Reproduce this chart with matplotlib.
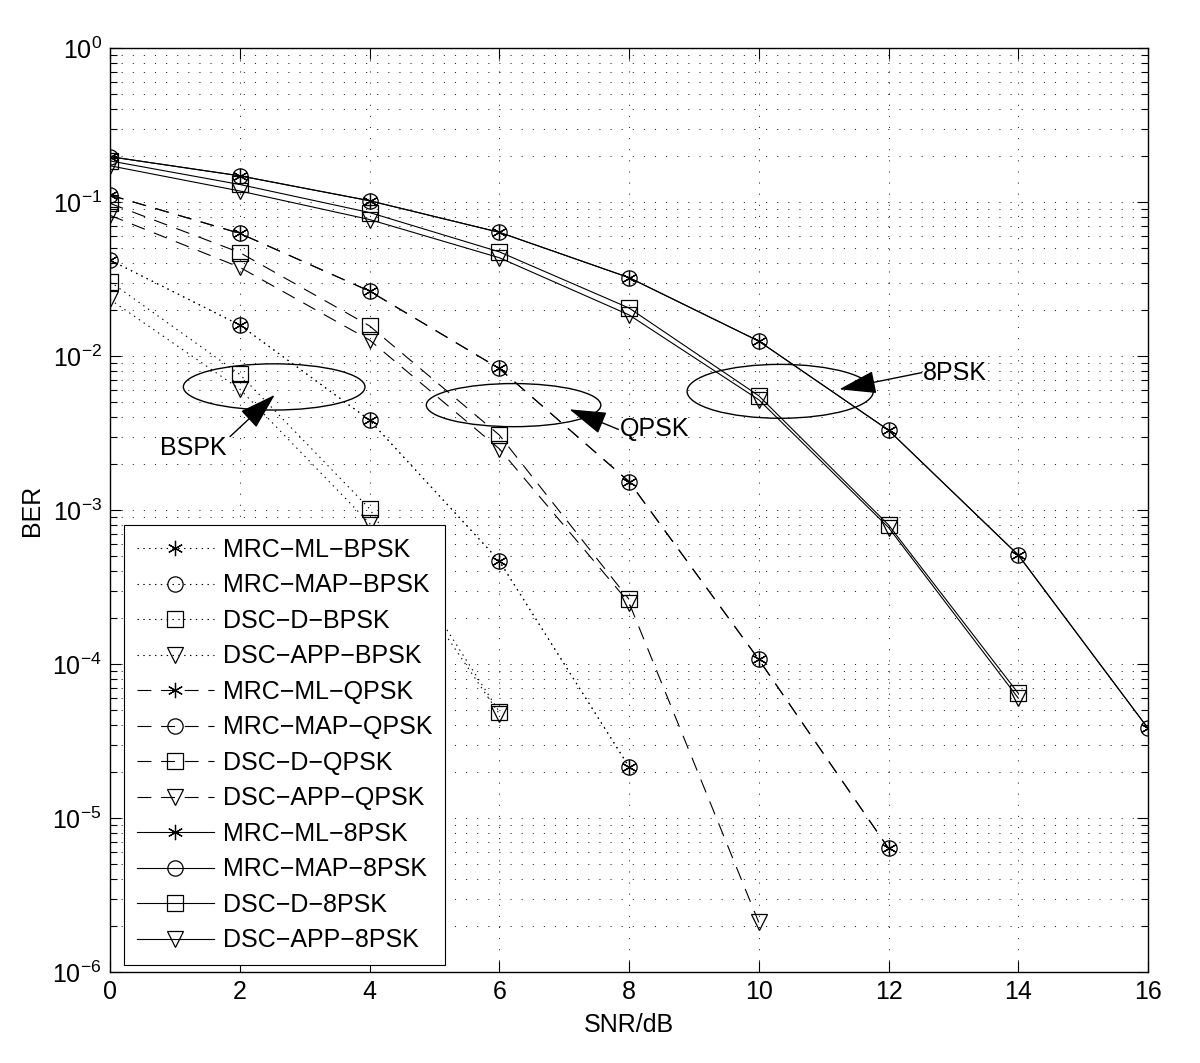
import numpy as np
import matplotlib
matplotlib.use('Agg')
import matplotlib.pyplot as plt
from matplotlib.patches import Ellipse
from matplotlib.ticker import NullFormatter

plt.rcParams['font.family'] = ['Liberation Sans', 'DejaVu Sans']
plt.rcParams['mathtext.fontset'] = 'custom'
plt.rcParams['mathtext.rm'] = 'Liberation Sans'
plt.rcParams['font.size'] = 18
plt.rcParams['lines.scale_dashes'] = False

# SNR points (dB)
snr = [0, 2, 4, 6, 8, 10, 12, 14, 16]

# BPSK curves
mrc_ml_bpsk = [0.042, 0.0159, 0.00384, 4.67e-4, 2.15e-5]
mrc_map_bpsk = [0.042, 0.0159, 0.00384, 4.67e-4, 2.15e-5]
dsc_d_bpsk = [0.0304, 0.0076, 0.00102, 4.9e-5]
dsc_app_bpsk = [0.0233, 0.0061, 0.00082, 4.75e-5]

# QPSK curves
mrc_ml_qpsk = [0.111, 0.0626, 0.0264, 0.0083, 0.00153, 1.07e-4, 6.35e-6]
mrc_map_qpsk = [0.111, 0.0626, 0.0264, 0.0083, 0.00153, 1.07e-4, 6.35e-6]
dsc_d_qpsk = [0.098, 0.047, 0.0157, 0.00307, 2.63e-4]
dsc_app_qpsk = [0.082, 0.0377, 0.0127, 0.0025, 2.5e-4, 2.1e-6]

# 8PSK curves
mrc_ml_8psk = [0.197, 0.148, 0.102, 0.0636, 0.0323, 0.0125, 0.0033, 5.1e-4, 3.82e-5]
mrc_map_8psk = [0.197, 0.148, 0.102, 0.0636, 0.0323, 0.0125, 0.0033, 5.1e-4, 3.82e-5]
dsc_d_8psk = [0.185, 0.13, 0.0855, 0.0475, 0.0205, 0.00552, 8.0e-4, 6.45e-5]
dsc_app_8psk = [0.172, 0.118, 0.077, 0.0435, 0.0185, 0.0052, 7.7e-4, 6.0e-5]

labels = ['MRC−ML−BPSK', 'MRC−MAP−BPSK', 'DSC−D−BPSK', 'DSC−APP−BPSK',
          'MRC−ML−QPSK', 'MRC−MAP−QPSK', 'DSC−D−QPSK', 'DSC−APP−QPSK',
          'MRC−ML−8PSK', 'MRC−MAP−8PSK', 'DSC−D−8PSK', 'DSC−APP−8PSK']
curves = [mrc_ml_bpsk, mrc_map_bpsk, dsc_d_bpsk, dsc_app_bpsk,
          mrc_ml_qpsk, mrc_map_qpsk, dsc_d_qpsk, dsc_app_qpsk,
          mrc_ml_8psk, mrc_map_8psk, dsc_d_8psk, dsc_app_8psk]

# annotations: (center snr, center ber, width in dB, height in decades)
ellipses = [(2.53, 6.3e-3, 2.8, 0.30),
            (6.22, 4.8e-3, 2.69, 0.28),
            (10.33, 5.9e-3, 2.87, 0.35)]
# (text, text snr, text ber, tail snr, tail ber, tip snr, tip ber, ha)
notes = [('BSPK', 1.28, 2.53e-3, 1.85, 3.0e-3, 2.54, 5.6e-3, 'center'),
         ('QPSK', 7.86, 3.34e-3, 7.835, 3.34e-3, 7.08, 4.51e-3, 'left'),
         ('8PSK', 12.53, 7.8e-3, 12.51, 7.8e-3, 11.24, 6.08e-3, 'left')]

asterisk = (6, 2, 0)
markers = [asterisk, 'o', 's', 'v'] * 3
dash_styles = [(0, (1, 3.2))] * 4 + [(0, (10, 7))] * 4 + ['-'] * 4

fig = plt.figure(figsize=(12, 10.63), dpi=100)
ax = fig.add_axes([0.0917, 0.0856, 0.865, 0.8692])

for vals, lab, mk, ls in zip(curves, labels, markers, dash_styles):
    ax.semilogy(snr[:len(vals)], vals, color='k', linestyle=ls, linewidth=0.8,
                marker=mk, markersize=11, markerfacecolor='none',
                markeredgecolor='k', markeredgewidth=0.9, label=lab)

ax.set_xlim(0, 16)
ax.set_ylim(1e-6, 1)
ax.set_xticks(range(0, 17, 2))
ax.yaxis.set_minor_formatter(NullFormatter())
ax.xaxis.set_minor_formatter(NullFormatter())
ax.set_xlabel('SNR/dB', labelpad=6)
ax.set_ylabel('BER', labelpad=6)

ax.tick_params(which='both', direction='in', top=True, right=True, width=0.8)
ax.tick_params(which='major', length=8, pad=6)
ax.tick_params(which='minor', length=5)
ax.tick_params(axis='x', which='minor', bottom=False, top=False)
for sp in ax.spines.values():
    sp.set_linewidth(1.0)

ax.grid(True, which='major', axis='both', color='k', linestyle=(0, (0.8, 7.2)), linewidth=0.6)
ax.grid(True, which='minor', axis='y', color='k', linestyle=(0, (0.8, 7.2)), linewidth=0.6)
ax.set_axisbelow(True)

def to_axes(s, b):
    return s / 16.0, (np.log10(b) + 6) / 6.0

for cx, cb, w, h in ellipses:
    fx, fy = to_axes(cx, cb)
    ax.add_patch(Ellipse((fx, fy), w / 16.0, h / 6.0, transform=ax.transAxes,
                         fill=False, edgecolor='k', linewidth=1.0, zorder=5))

for txt, tx, tb, ax0, ab0, ax1, ab1, ha in notes:
    ax.annotate('', xy=(ax1, ab1), xytext=(ax0, ab0),
                arrowprops=dict(arrowstyle='-|>,head_length=1.3,head_width=0.4',
                                color='k', lw=1.0, mutation_scale=18,
                                shrinkA=0, shrinkB=0), zorder=6)
    ax.text(tx, tb, txt, ha=ha, va='center', fontsize=18, zorder=6)

leg = ax.legend(loc='lower left', bbox_to_anchor=(0.0135, 0.0076), borderaxespad=0,
                handlelength=3.1, handletextpad=0.35, labelspacing=0.46,
                borderpad=0.5, fancybox=False, framealpha=1, edgecolor='k',
                fontsize=18, numpoints=1)
leg.get_frame().set_linewidth(0.8)
leg.set_zorder(10)

fig.savefig('out.png', dpi=100)
